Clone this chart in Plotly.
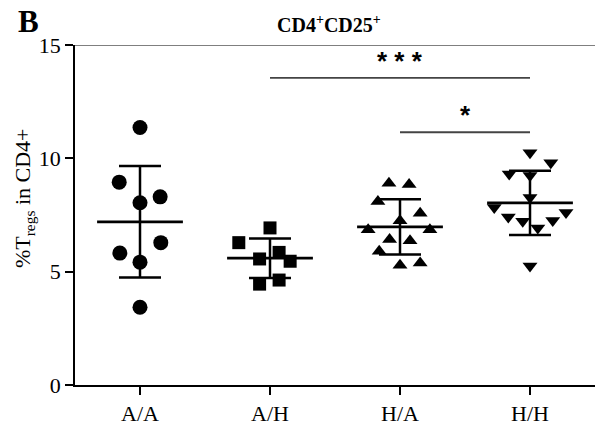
import numpy as np
import plotly.graph_objects as go

# ---------------- data ----------------
categories = ["A/A", "A/H", "H/A", "H/H"]

aa_values = [11.36, 8.95, 8.04, 8.30, 5.82, 5.42, 6.28, 3.43]
aa_jitter = [0.0, -0.16, 0.0, 0.155, -0.155, 0.0, 0.16, 0.0]

ah_values = [6.93, 6.28, 5.56, 5.85, 5.46, 4.45, 4.63]
ah_jitter = [0.0, -0.24, -0.08, 0.07, 0.155, -0.08, 0.07]

ha_values = [8.90, 8.85, 8.10, 7.58, 7.25, 6.85, 6.85, 6.42, 6.36, 5.90, 5.28, 5.38]
ha_jitter = [-0.085, 0.07, -0.17, 0.155, 0.0, -0.245, 0.23, -0.08, 0.077, -0.16, 0.0, 0.155]

hh_values = [10.25, 9.81, 9.31, 9.24, 8.27, 7.83, 7.61, 7.41, 7.22, 7.26, 6.93, 5.25]
hh_jitter = [0.0, 0.16, -0.16, 0.0, 0.0, -0.275, 0.277, -0.167, -0.056, 0.175, 0.06, 0.0]

y_ticks = [0, 5, 10, 15]
sig_pairs = [(1, 3, "* * *"), (2, 3, "*")]
sig_levels = [13.55, 11.15]

groups = [
    (aa_values, aa_jitter, "circle", 15),
    (ah_values, ah_jitter, "square", 13),
    (ha_values, ha_jitter, "triangle-up", 13),
    (hh_values, hh_jitter, "triangle-down", 13),
]

SERIF = "Liberation Serif, Times New Roman, serif"
SANS = "Liberation Sans, Arial, sans-serif"

fig = go.Figure()

for i, (vals, jit, sym, sz) in enumerate(groups):
    xs = [i + j for j in jit]
    fig.add_trace(go.Scatter(
        x=xs, y=vals, mode="markers",
        marker=dict(symbol=sym, size=sz, color="black", line=dict(width=0)),
        showlegend=False, hoverinfo="y"))

for i, (vals, jit, sym, sz) in enumerate(groups):
    m = float(np.mean(vals))
    sd = float(np.std(vals, ddof=1))
    # SD bar
    fig.add_trace(go.Scatter(
        x=[i], y=[m], mode="markers",
        marker=dict(size=1, color="rgba(0,0,0,0)"),
        error_y=dict(type="data", array=[sd], visible=True,
                     color="black", thickness=2.5, width=21),
        showlegend=False, hoverinfo="skip"))
    # mean line
    fig.add_trace(go.Scatter(
        x=[i - 0.33, i + 0.33], y=[m, m], mode="lines",
        line=dict(color="black", width=2.8),
        showlegend=False, hoverinfo="skip"))

# significance brackets
for (a, b, txt), lvl in zip(sig_pairs, sig_levels):
    fig.add_shape(type="line", xref="x", yref="y", x0=a, x1=b, y0=lvl, y1=lvl,
                  line=dict(color="#444444", width=1.8))
    fig.add_annotation(x=(a + b) / 2, y=lvl + 0.75, xref="x", yref="y",
                       text="<b>" + txt + "</b>", showarrow=False,
                       xanchor="center", yanchor="middle",
                       font=dict(family=SANS, size=26, color="black"))

# top line at y = 15
fig.add_shape(type="line", xref="paper", yref="y", x0=0, x1=1, y0=15, y1=15,
              line=dict(color="black", width=1.2))

# titles
fig.add_annotation(x=0.488, y=1.062, xref="paper", yref="paper",
                   text="<b>CD4<sup>+</sup>CD25<sup>+</sup></b>", showarrow=False,
                   xanchor="center", yanchor="middle",
                   font=dict(family=SERIF, size=20, color="black"))
fig.add_annotation(x=-0.09, y=1.069, xref="paper", yref="paper",
                   text="<b>B</b>", showarrow=False, xanchor="center", yanchor="middle",
                   font=dict(family=SERIF, size=31, color="black"))
fig.add_annotation(x=-0.098, y=0.55, xref="paper", yref="paper",
                   text="%T<sub>regs</sub> in CD4+", showarrow=False, textangle=-90,
                   xanchor="center", yanchor="middle",
                   font=dict(family=SERIF, size=22, color="black"))

fig.update_layout(
    width=595, height=426,
    margin=dict(l=75, r=0, t=45, b=34),
    paper_bgcolor="white", plot_bgcolor="white",
    showlegend=False,
    xaxis=dict(range=[-0.5, 3.5], tickvals=[0, 1, 2, 3], ticktext=categories,
               showgrid=False, zeroline=False, showline=True, linecolor="black",
               linewidth=1.5, ticks="outside", ticklen=8, tickwidth=1.5,
               tickcolor="black",
               tickfont=dict(family=SERIF, size=22, color="black")),
    yaxis=dict(range=[0, 15], tickvals=y_ticks, showgrid=False, zeroline=False,
               showline=True, linecolor="black", linewidth=1.5, ticks="outside",
               ticklen=8, tickwidth=1.5, tickcolor="black",
               tickfont=dict(family=SERIF, size=22, color="black")),
)

fig.write_html("out.html",
               config={"displayModeBar": False},
               post_script="document.body.style.margin='0';document.body.style.padding='0';")
